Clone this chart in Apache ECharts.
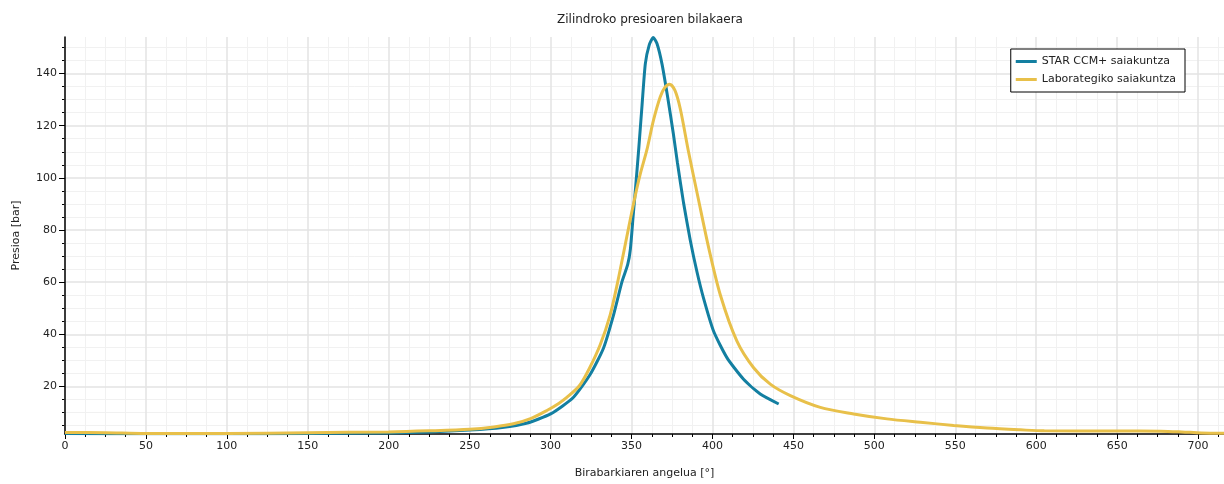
<!DOCTYPE html>
<html>
<head>
<meta charset="utf-8">
<title>Zilindroko presioaren bilakaera</title>
<script src="https://cdn.jsdelivr.net/npm/echarts@6/dist/echarts.min.js"></script>
<style>
  html, body { margin: 0; padding: 0; background: #ffffff; }
  #chart { width: 1224px; height: 484px; }
</style>
</head>
<body>
<div id="chart"></div>
<script>
// STAR CCM+ simulation: crank angle [°] and cylinder pressure [bar]
const starAngle = [0, 50, 100, 150, 200, 225, 250, 270, 285, 300,
  314, 324.5, 332.7, 338.9, 344.1, 347.6, 349.3, 351, 352.4, 354.4,
  356.5, 358.5, 360.9, 363.4, 365.7, 368.8, 372.3, 375.8, 378.3, 382.1,
  386.3, 390.4, 394.5, 400.7, 409, 419.2, 429.5, 440.9];
const starPressure = [2.0, 1.9, 1.9, 2.0, 2.2, 2.6, 3.3, 4.3, 5.9, 9.5,
  15.8, 24.7, 34.8, 47.5, 60.2, 66.7, 72.8, 85.5, 95.6, 110.8,
  128, 143.7, 150.9, 153.8, 151.5, 143.7, 131, 117, 106, 90.5,
  76, 64, 53.8, 41.2, 31.0, 22.8, 17.1, 13.3];

// Laboratory measurement: crank angle [°] and cylinder pressure [bar]
const labAngle = [0, 25, 50, 100, 150, 200, 225, 250, 265, 277,
  288, 297.7, 305, 310, 318, 324, 330.7, 336.8, 340.9, 345,
  349.2, 352.4, 355.4, 359.5, 363.6, 367.7, 370.5, 373.5, 376.8, 380.1,
  385.2, 391.3, 397.8, 404.9, 415.1, 425.4, 435.7, 448.1, 466.6, 487.2,
  507.8, 528.4, 549, 569.6, 590.2, 605, 650, 677, 690, 702, 716];
const labPressure = [2.4, 2.3, 2.0, 2.0, 2.3, 2.6, 3.0, 3.6, 4.5, 5.7,
  7.8, 10.8, 13.5, 15.8, 20.5, 27, 36.1, 47.5, 58.5, 71,
  84, 93.5, 101.5, 110.8, 122.2, 131, 134.6, 135.9, 133.5, 126.5,
  110, 91.8, 72.8, 55, 37.4, 27.2, 20.9, 16.5, 12.0, 9.5,
  7.6, 6.3, 5.1, 4.1, 3.4, 3.0, 2.95, 2.9, 2.6, 2.2, 2.1];

// Axis ticks
const xMajorTicks = [0, 50, 100, 150, 200, 250, 300, 350, 400, 450, 500, 550, 600, 650, 700];
const yMajorTicks = [20, 40, 60, 80, 100, 120, 140];
const xRange = [0, 716];
const yRange = [1.8, 154];

const xMinorTicks = [];
for (let v = 12.5; v < xRange[1]; v += 12.5) {
  if (v % 50 !== 0) xMinorTicks.push(v);
}
const yMinorTicks = [];
for (let v = 5; v < yRange[1]; v += 5) {
  if (v % 20 !== 0) yMinorTicks.push(v);
}

const zip = (xs, ys) => xs.map((x, i) => [x, ys[i]]);

const FONT = 'DejaVu Sans';
const TXT = '#222222';

const chart = echarts.init(document.getElementById('chart'), null, { renderer: 'canvas' });

chart.setOption({
  animation: false,
  backgroundColor: '#ffffff',
  textStyle: { fontFamily: FONT },
  title: {
    text: 'Zilindroko presioaren bilakaera',
    left: 552,
    top: 9,
    textStyle: { fontFamily: FONT, fontSize: 12, fontWeight: 'normal', color: TXT }
  },
  legend: {
    orient: 'vertical',
    right: 39,
    top: 49,
    padding: [6, 9, 6, 5],
    itemWidth: 21,
    itemHeight: 3,
    itemGap: 5,
    backgroundColor: '#ffffff',
    borderColor: '#000000',
    borderWidth: 1,
    borderRadius: 0,
    textStyle: { fontFamily: FONT, fontSize: 11, color: TXT, lineHeight: 13 },
    data: [
      { name: 'STAR CCM+ saiakuntza', icon: 'rect' },
      { name: 'Laborategiko saiakuntza', icon: 'rect' }
    ]
  },
  grid: { left: 65, right: 0, top: 37, bottom: 47, containLabel: false },
  xAxis: [
    {
      type: 'value',
      position: 'bottom',
      min: xRange[0],
      max: xRange[1],
      name: 'Birabarkiaren angelua [°]',
      nameLocation: 'middle',
      nameGap: 34,
      nameTextStyle: { fontFamily: FONT, fontSize: 11, color: TXT },
      axisLine: { show: true, lineStyle: { color: '#000000', width: 1.5 } },
      axisTick: { show: true, customValues: xMajorTicks, length: 5, lineStyle: { color: '#000000' } },
      axisLabel: { customValues: xMajorTicks, fontFamily: FONT, fontSize: 11, color: TXT, margin: 7 },
      splitLine: { show: true, lineStyle: { color: '#e3e3e3', width: 1.5 } },
      z: 3
    },
    {
      type: 'value',
      position: 'bottom',
      offset: 0,
      min: xRange[0],
      max: xRange[1],
      axisLine: { show: false },
      axisTick: { show: true, customValues: xMinorTicks, length: 3, lineStyle: { color: '#000000' } },
      axisLabel: { show: false },
      splitLine: { show: true, lineStyle: { color: '#f1f1f1', width: 1 } },
      z: 2
    }
  ],
  yAxis: [
    {
      type: 'value',
      position: 'left',
      min: yRange[0],
      max: yRange[1],
      name: 'Presioa [bar]',
      nameLocation: 'middle',
      nameGap: 43,
      nameTextStyle: { fontFamily: FONT, fontSize: 11, color: TXT },
      axisLine: { show: true, lineStyle: { color: '#000000', width: 1.5 } },
      axisTick: { show: true, customValues: yMajorTicks, length: 6, lineStyle: { color: '#000000' } },
      axisLabel: { customValues: yMajorTicks, fontFamily: FONT, fontSize: 11, color: TXT, margin: 8 },
      splitLine: { show: true, lineStyle: { color: '#e3e3e3', width: 1.5 } },
      z: 3
    },
    {
      type: 'value',
      position: 'left',
      offset: 0,
      min: yRange[0],
      max: yRange[1],
      axisLine: { show: false },
      axisTick: { show: true, customValues: yMinorTicks, length: 3, lineStyle: { color: '#000000' } },
      axisLabel: { show: false },
      splitLine: { show: true, lineStyle: { color: '#f1f1f1', width: 1 } },
      z: 2
    }
  ],
  series: [
    {
      name: 'STAR CCM+ saiakuntza',
      type: 'line',
      xAxisIndex: 0,
      yAxisIndex: 0,
      data: zip(starAngle, starPressure),
      symbol: 'none',
      smooth: 0.2,
      color: '#137fa1',
      lineStyle: { width: 3, color: '#137fa1' },
      z: 5
    },
    {
      name: 'Laborategiko saiakuntza',
      type: 'line',
      xAxisIndex: 0,
      yAxisIndex: 0,
      data: zip(labAngle, labPressure),
      symbol: 'none',
      smooth: 0.3,
      color: '#e8c04a',
      lineStyle: { width: 3, color: '#e8c04a' },
      z: 6
    }
  ]
});
</script>
</body>
</html>
